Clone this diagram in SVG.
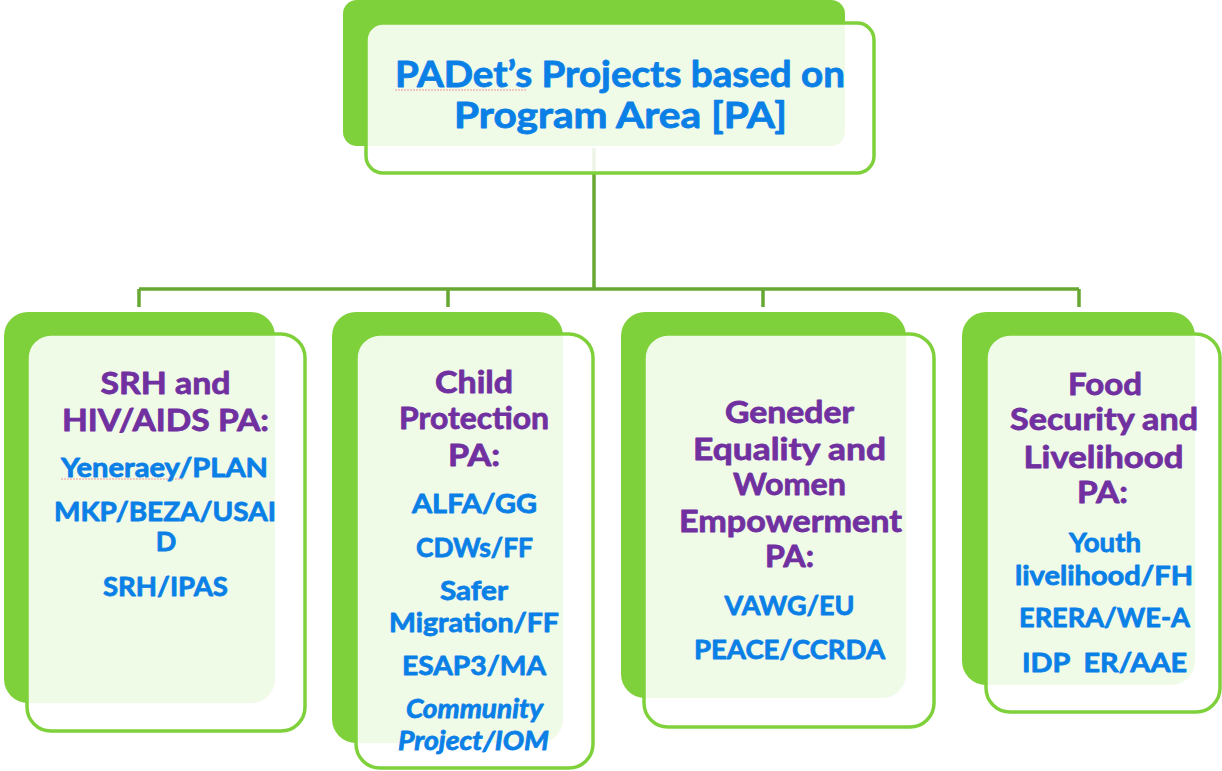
<svg xmlns="http://www.w3.org/2000/svg" width="1222" height="771" viewBox="0 0 1222 771">
  <style>
    .back{fill:#7FD13B}
    .front{fill:#ffffff;fill-opacity:0.88;stroke:#7FD13B;stroke-width:3.5}
    .conn{fill:none;stroke:#66A832;stroke-width:3.5}
    .t{font-family:Lato,"Open Sans","Liberation Sans",sans-serif;font-weight:bold;text-anchor:middle;stroke-width:0.8;stroke-linejoin:round}
    .title{fill:#0A7FE6;stroke:#0A7FE6;font-size:36px}
    .h{fill:#7030A0;stroke:#7030A0;font-size:31px}
    .i{fill:#0A7FE6;stroke:#0A7FE6;font-size:27px}
    .it{font-style:italic}
    .spell{fill:none;stroke:#F19A9A;stroke-width:1.2;stroke-dasharray:2 1}
  </style>
  <rect width="1222" height="771" fill="#ffffff"/>

  <!-- tree connectors, drawn first so the translucent cards sit over them -->
  <g id="connectors">
    <path class="conn" d="M594,148 V289"/>
    <path class="conn" d="M139,289 H1079"/>
    <path class="conn" d="M139,289 V307 M448,289 V307 M763,289 V307 M1079,289 V307"/>
  </g>

  <g id="node-root">
    <rect class="back" x="343" y="0" width="502" height="146" rx="14"/>
    <rect class="front" x="366" y="23" width="508" height="150" rx="17"/>
    <path class="spell" d="M395,90 H527"/>
    <text class="t title" x="620" y="87" textLength="450" lengthAdjust="spacingAndGlyphs">PADet’s Projects based on</text>
    <text class="t title" x="620.5" y="128" textLength="333" lengthAdjust="spacingAndGlyphs">Program Area [PA]</text>
  </g>

  <g id="node-srh">
    <rect class="back" x="4" y="312" width="271" height="391" rx="24"/>
    <rect class="front" x="27" y="334" width="278" height="397" rx="24"/>
    <text class="t h" x="165.5" y="394" textLength="130" lengthAdjust="spacingAndGlyphs">SRH and</text>
    <text class="t h" x="165.5" y="431" textLength="207" lengthAdjust="spacingAndGlyphs">HIV/AIDS PA:</text>
    <path class="spell" d="M61,479 H183"/>
    <text class="t i" x="164.5" y="477" textLength="207" lengthAdjust="spacingAndGlyphs">Yeneraey/PLAN</text>
    <text class="t i" x="165" y="521" textLength="222" lengthAdjust="spacingAndGlyphs">MKP/BEZA/USAI</text>
    <text class="t i" x="166" y="551">D</text>
    <text class="t i" x="165.5" y="596" textLength="125" lengthAdjust="spacingAndGlyphs">SRH/IPAS</text>
  </g>

  <g id="node-child">
    <rect class="back" x="332" y="312" width="231" height="431" rx="24"/>
    <rect class="front" x="356" y="334" width="237" height="434" rx="24"/>
    <text class="t h" x="474" y="393" textLength="78" lengthAdjust="spacingAndGlyphs">Child</text>
    <text class="t h" x="474" y="429" textLength="150" lengthAdjust="spacingAndGlyphs">Protection</text>
    <text class="t h" x="474" y="466" textLength="52" lengthAdjust="spacingAndGlyphs">PA:</text>
    <text class="t i" x="474.5" y="513" textLength="125" lengthAdjust="spacingAndGlyphs">ALFA/GG</text>
    <text class="t i" x="474.5" y="557" textLength="117" lengthAdjust="spacingAndGlyphs">CDWs/FF</text>
    <text class="t i" x="474" y="600" textLength="68" lengthAdjust="spacingAndGlyphs">Safer</text>
    <text class="t i" x="474" y="632" textLength="170" lengthAdjust="spacingAndGlyphs">Migration/FF</text>
    <text class="t i" x="474" y="675" textLength="144" lengthAdjust="spacingAndGlyphs">ESAP3/MA</text>
    <text class="t i it" x="474.5" y="718" textLength="137" lengthAdjust="spacingAndGlyphs">Community</text>
    <text class="t i it" x="473.5" y="750" textLength="151" lengthAdjust="spacingAndGlyphs">Project/IOM</text>
  </g>

  <g id="node-gender">
    <rect class="back" x="621" y="312" width="285" height="386" rx="24"/>
    <rect class="front" x="644" y="334" width="290" height="393" rx="24"/>
    <text class="t h" x="789.5" y="423" textLength="129" lengthAdjust="spacingAndGlyphs">Geneder</text>
    <text class="t h" x="789.5" y="460" textLength="193" lengthAdjust="spacingAndGlyphs">Equality and</text>
    <text class="t h" x="789.5" y="495" textLength="113" lengthAdjust="spacingAndGlyphs">Women</text>
    <text class="t h" x="790.5" y="532" textLength="223" lengthAdjust="spacingAndGlyphs">Empowerment</text>
    <text class="t h" x="789.5" y="567" textLength="49" lengthAdjust="spacingAndGlyphs">PA:</text>
    <text class="t i" x="789.5" y="615" textLength="130" lengthAdjust="spacingAndGlyphs">VAWG/EU</text>
    <text class="t i" x="789.5" y="659" textLength="191" lengthAdjust="spacingAndGlyphs">PEACE/CCRDA</text>
  </g>

  <g id="node-food">
    <rect class="back" x="962" y="312" width="233" height="373" rx="24"/>
    <rect class="front" x="986" y="334" width="234" height="378" rx="24"/>
    <text class="t h" x="1105" y="395" textLength="74" lengthAdjust="spacingAndGlyphs">Food</text>
    <text class="t h" x="1104" y="430" textLength="188" lengthAdjust="spacingAndGlyphs">Security and</text>
    <text class="t h" x="1103.5" y="468" textLength="160" lengthAdjust="spacingAndGlyphs">Livelihood</text>
    <text class="t h" x="1102.5" y="503" textLength="51" lengthAdjust="spacingAndGlyphs">PA:</text>
    <text class="t i" x="1105" y="552" textLength="72" lengthAdjust="spacingAndGlyphs">Youth</text>
    <text class="t i" x="1104" y="585" textLength="178" lengthAdjust="spacingAndGlyphs">livelihood/FH</text>
    <text class="t i" x="1104.5" y="627" textLength="171" lengthAdjust="spacingAndGlyphs">ERERA/WE-A</text>
    <text class="t i" x="1104.5" y="672" textLength="165" lengthAdjust="spacingAndGlyphs" xml:space="preserve">IDP  ER/AAE</text>
  </g>
</svg>
